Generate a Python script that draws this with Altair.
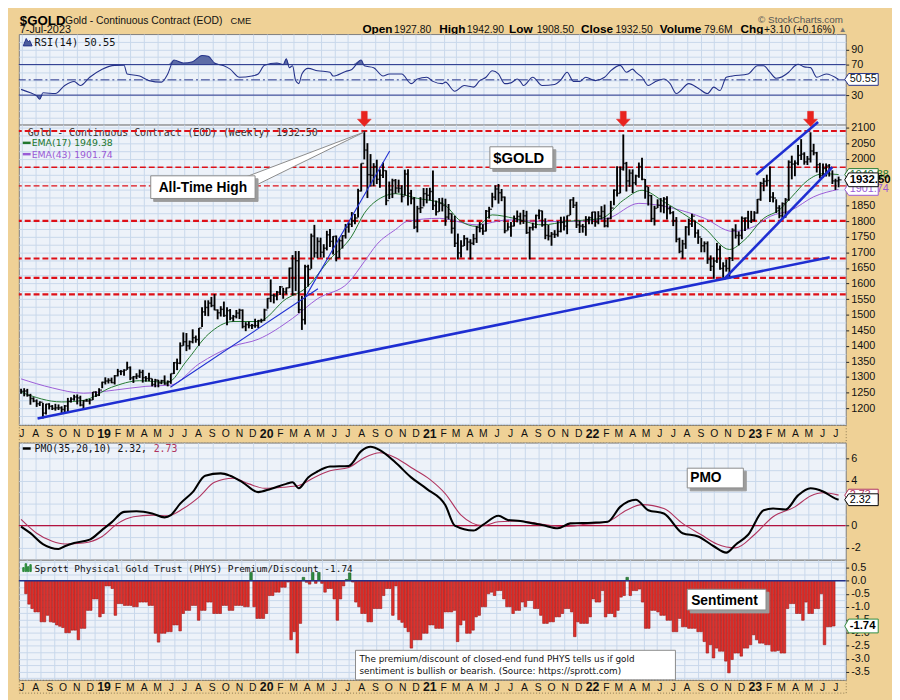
import altair as alt
import pandas as pd

# ------------------------------------------------------------------ data
week_start = "2018-06-29"   # first weekly bar (Fridays)

high = [
    1262, 1264, 1262, 1246, 1235, 1228, 1222, 1217, 1214, 1216, 1210, 1214, 1212, 1206, 1210, 1233, 1235, 1243, 1244, 1240, 1226, 1230, 1230, 1252, 1254, 1264, 1285,
    1299, 1296, 1298, 1306, 1326, 1322, 1325, 1349, 1334, 1303, 1312, 1324, 1323, 1303, 1314, 1295, 1294, 1291, 1291, 1305, 1289, 1311, 1348, 1359, 1411, 1443,
    1441, 1417, 1453, 1433, 1457, 1524, 1546, 1546, 1557, 1566, 1517, 1527, 1542, 1524, 1518, 1499, 1515, 1519, 1517, 1476, 1478, 1470, 1487, 1483, 1487, 1519,
    1553, 1613, 1566, 1576, 1592, 1586, 1587, 1651, 1691, 1704, 1704, 1560, 1660, 1660, 1760, 1788, 1748, 1747, 1726, 1769, 1775, 1752, 1754, 1745, 1755, 1791,
    1796, 1829, 1823, 1904, 1985, 2089, 2050, 2015, 1986, 1997, 1966, 1988, 1963, 1927, 1936, 1935, 1933, 1915, 1965, 1966, 1900, 1877, 1849, 1877, 1906, 1906,
    1907, 1962, 1866, 1874, 1875, 1872, 1855, 1825, 1817, 1760, 1739, 1755, 1747, 1742, 1759, 1784, 1797, 1790, 1836, 1846, 1891, 1915, 1919, 1903, 1879, 1796,
    1797, 1818, 1834, 1827, 1836, 1833, 1782, 1795, 1821, 1837, 1834, 1809, 1788, 1765, 1771, 1800, 1814, 1815, 1818, 1870, 1877, 1862, 1802, 1791, 1816, 1815, 1830,
    1831, 1832, 1848, 1853, 1811, 1865, 1902, 1976, 1975, 2078, 1990, 1966, 1966, 1949, 1988, 2003, 1935, 1910, 1884, 1849, 1870, 1874, 1877, 1880, 1848,
    1832, 1813, 1747, 1740, 1784, 1808, 1824, 1802, 1773, 1746, 1735, 1735, 1690, 1684, 1730, 1722, 1668, 1677, 1685, 1777, 1790, 1767, 1815, 1812, 1833, 1833, 1832,
    1871, 1926, 1938, 1949, 1975, 1893, 1870, 1851, 1860, 1874, 1995, 2010, 1995, 2044, 2063, 2021, 2009, 2085, 2048, 2022, 1987, 1985, 1985, 1983, 1963, 1936, 1942.9,
]
low = [
    1246, 1238, 1237, 1211, 1219, 1204, 1207, 1167, 1180, 1196, 1194, 1192, 1194, 1182, 1182, 1185, 1218, 1224, 1212, 1206, 1196, 1221, 1212, 1226, 1236, 1239, 1264,
    1276, 1279, 1280, 1276, 1302, 1306, 1304, 1323, 1290, 1281, 1293, 1297, 1282, 1285, 1286, 1270, 1267, 1267, 1277, 1275, 1270, 1278, 1310, 1322, 1341, 1400,
    1383, 1388, 1408, 1410, 1400, 1460, 1496, 1495, 1524, 1514, 1485, 1494, 1493, 1466, 1482, 1478, 1488, 1486, 1456, 1447, 1456, 1454, 1458, 1457, 1474, 1480,
    1519, 1540, 1536, 1546, 1563, 1551, 1565, 1585, 1562, 1576, 1505, 1451, 1468, 1590, 1647, 1683, 1681, 1683, 1683, 1706, 1717, 1693, 1671, 1682, 1712, 1744,
    1763, 1781, 1790, 1812, 1895, 1998, 1874, 1911, 1912, 1919, 1907, 1938, 1851, 1871, 1874, 1888, 1891, 1860, 1882, 1850, 1854, 1775, 1764, 1826, 1847, 1857,
    1866, 1836, 1818, 1830, 1831, 1785, 1805, 1760, 1717, 1677, 1683, 1720, 1706, 1677, 1723, 1730, 1764, 1756, 1767, 1808, 1844, 1867, 1856, 1864, 1761, 1770,
    1750, 1783, 1796, 1789, 1791, 1759, 1677, 1770, 1777, 1806, 1782, 1742, 1738, 1721, 1746, 1750, 1764, 1770, 1758, 1819, 1842, 1778, 1762, 1763, 1753, 1790, 1790,
    1782, 1790, 1805, 1780, 1780, 1806, 1851, 1879, 1889, 1962, 1895, 1910, 1890, 1915, 1939, 1931, 1872, 1850, 1797, 1786, 1842, 1828, 1825, 1805, 1822,
    1784, 1732, 1697, 1680, 1711, 1754, 1781, 1747, 1727, 1700, 1700, 1663, 1640, 1615, 1666, 1644, 1618, 1638, 1618, 1672, 1744, 1722, 1742, 1768, 1776, 1794, 1799,
    1824, 1865, 1896, 1911, 1861, 1860, 1826, 1809, 1806, 1811, 1865, 1934, 1944, 1979, 1996, 1981, 1980, 1988, 2011, 1956, 1937, 1939, 1943, 1943, 1919, 1900, 1908.5,
]
close = [
    1254, 1255, 1241, 1231, 1223, 1214, 1219, 1184, 1213, 1206, 1199, 1201, 1201, 1196, 1207, 1222, 1229, 1236, 1233, 1210, 1223, 1223, 1226, 1252, 1241, 1258, 1283,
    1287, 1289, 1282, 1304, 1318, 1318, 1322, 1330, 1297, 1301, 1303, 1315, 1298, 1295, 1295, 1276, 1290, 1281, 1288, 1278, 1285, 1311, 1346, 1344, 1400, 1413,
    1400, 1413, 1426, 1420, 1457, 1509, 1523, 1537, 1529, 1515, 1506, 1517, 1497, 1513, 1489, 1494, 1505, 1514, 1462, 1468, 1465, 1465, 1465, 1481, 1481, 1515,
    1552, 1562, 1560, 1572, 1589, 1573, 1586, 1649, 1566, 1673, 1516, 1484, 1654, 1645, 1752, 1698, 1735, 1700, 1713, 1756, 1735, 1751, 1683, 1737, 1753, 1781,
    1790, 1801, 1810, 1897, 1985, 2028, 1949, 1947, 1975, 1934, 1947, 1962, 1866, 1900, 1930, 1906, 1905, 1879, 1951, 1889, 1872, 1781, 1840, 1843, 1888, 1883,
    1895, 1850, 1830, 1857, 1850, 1813, 1824, 1777, 1729, 1698, 1720, 1744, 1733, 1729, 1744, 1780, 1777, 1768, 1832, 1838, 1877, 1903, 1891, 1877, 1769, 1781,
    1784, 1808, 1815, 1801, 1817, 1763, 1779, 1781, 1818, 1833, 1788, 1754, 1752, 1758, 1757, 1767, 1796, 1784, 1818, 1868, 1851, 1788, 1784, 1782, 1805, 1811, 1829,
    1797, 1816, 1831, 1785, 1808, 1842, 1899, 1889, 1967, 1985, 1929, 1954, 1923, 1945, 1975, 1934, 1911, 1882, 1808, 1841, 1851, 1850, 1871, 1840, 1827,
    1801, 1742, 1703, 1727, 1781, 1791, 1816, 1762, 1749, 1721, 1728, 1677, 1655, 1672, 1709, 1648, 1656, 1648, 1681, 1771, 1754, 1754, 1809, 1810, 1800, 1804, 1826,
    1870, 1921, 1928, 1930, 1877, 1874, 1842, 1817, 1856, 1868, 1989, 1983, 1986, 2011, 2015, 1990, 1999, 2025, 2019, 1981, 1946, 1969, 1977, 1971, 1929, 1929, 1932.5,
]
# PHYS premium/discount (%), weekly
premium = [
    -0.5, -0.9, -1.07, -1.2, -1.2, -1.58, -1.58, -1.33, -1.58, -1.6,
    -1.7, -1.75, -1.8, -2.0, -2.0, -1.9, -1.9, -2.27, -1.83, -1.83,
    -1.14, -1.14, -0.7, -0.7, -1.39, -1.26, -0.2, -0.2, -0.3, -1.33,
    -0.88, -0.88, -0.95, -0.95, -0.95, -1.0, -1.0, -0.82, -0.82, -0.82,
    -0.95, -0.95, -2.02, -2.36, -2.02, -2.02, -1.96, -1.96, -1.7, -1.7,
    -1.93, -1.26, -1.14, -1.14, -0.95, -0.95, -1.52, -1.14, -1.14, -0.82,
    -0.82, -1.26, -1.26, -1.26, -0.95, -0.95, -1.14, -1.14, -0.95, -0.95,
    -0.95, -1.0, -1.0, 0.32, -1.0, -1.45, -1.45, -1.45, -1.26, -0.57,
    -0.57, -0.44, -0.44, -0.25, -0.25, -0.05, -2.27, -1.96, -2.78, -1.64,
    0.13, -0.06, -0.13, 0.32, -0.1, 0.32, -0.1, -0.44, -0.3, -0.3,
    -0.7, -1.52, -0.7, -0.2, 0.05, 0.3, -0.05, -0.82, -1.0, -1.26,
    -1.26, -1.58, -1.58, -1.07, -1.07, -1.07, -0.57, -0.3, -0.3, -1.33,
    -0.2, -1.5, -1.6, -1.8, -1.96, -2.59, -2.27, -2.27, -2.27, -2.02,
    -2.02, -1.7, -1.7, -1.83, -1.83, -1.83, -1.2, -1.2, -1.2, -1.14,
    -2.34, -1.7, -1.52, -2.02, -2.02, -1.9, -1.39, -1.33, -1.0, -1.0,
    -0.5, -0.44, -0.57, -0.38, -0.38, -0.7, -1.0, -1.0, -1.26, -1.14,
    -1.14, -0.82, -1.0, -0.76, -0.76, -1.07, -1.07, -1.33, -1.64, -1.64,
    -1.58, -1.58, -1.39, -1.39, -1.26, -1.07, -1.07, -1.2, -2.15, -1.58,
    -1.64, -1.64, -1.64, -1.39, -0.7, -0.82, -0.82, -0.38, -1.39, -1.26,
    -1.26, -1.39, -1.14, -0.63, -0.57, 0.13, -0.57, -0.38, -0.38, -0.32,
    -0.82, -1.83, -1.83, -1.14, -1.14, -1.2, -1.33, -1.33, -1.52, -1.52,
    -1.96, -1.96, -1.45, -1.77, -1.77, -1.83, -1.83, -1.83, -1.96, -1.96,
    -2.34, -2.78, -2.46, -2.97, -2.59, -2.71, -2.71, -3.09, -3.54, -3.03,
    -2.78, -2.78, -2.9, -2.59, -2.59, -2.46, -2.08, -2.27, -2.4, -2.4,
    -2.46, -2.46, -2.71, -2.71, -2.68, -2.78, -2.78, -1.07, -0.88, -0.88,
    -1.26, -1.26, -1.52, -0.82, -1.26, -1.26, -1.07, -1.07, -0.5, -2.46,
    -1.77, -1.77, -1.74,
]

# indicator readings: week number (0 = first bar) and value
rsi_week = [0, 3, 5, 6, 7, 11, 14, 17, 19, 22, 26, 30, 33, 34, 38, 41, 45, 47, 49, 52, 55, 58, 60, 62, 65, 67, 70, 74, 76, 78,
            82, 84, 85, 86, 87, 88, 89, 90, 92, 95, 99, 100, 104, 106, 109, 110, 113, 116, 118, 122, 125, 127, 130, 132, 135, 136,
            139, 142, 145, 147, 149, 151, 153, 155, 157, 159, 160, 161, 164, 167, 171, 173, 175, 177, 179, 181, 184, 187, 189, 192,
            194, 196, 197, 199, 201, 203, 206, 208, 210, 214, 217, 220, 222, 224, 226, 228, 233, 236, 238, 240, 242, 246, 248, 249,
            251, 253, 255, 258, 262]
rsi_value = [37.5, 33, 29, 24.6, 33, 32, 42.6, 47.8, 42.6, 53.4, 64, 69, 69.2, 57.7, 55, 49, 47, 57.7, 76, 72, 73.8, 82, 81, 72, 68.4, 64, 53.4, 55, 57.7, 69.2,
             72, 70, 77.5, 66, 68.4, 49, 45, 57.7, 65, 62, 60, 55, 61, 63.6, 76, 68.4, 66, 55, 57.7, 57.7, 45, 51, 53.4, 48, 45, 47,
             35, 42.6, 40.5, 49, 53.4, 62, 57.7, 45, 46, 51, 48, 42.6, 53.4, 42.6, 44, 50, 60, 48, 48, 53.4, 49, 53.4, 62, 69,
             60, 64, 60, 53.4, 42.6, 47, 51, 45, 32, 45, 39, 32, 40.5, 36, 53.4, 55, 57.7, 68.4, 68.4, 60, 52, 60, 68.4, 70.5,
             67, 66, 53.4, 57.7, 50.55]

pmo_week = [0, 3, 7, 12, 14, 17, 22, 26, 29, 33, 37, 42, 46, 48, 51, 55, 59, 64, 67, 71, 76, 80, 85, 87, 89, 92, 95, 99, 105, 109,
            112, 115, 120, 125, 130, 136, 139, 145, 148, 153, 156, 160, 164, 167, 172, 176, 183, 188, 192, 197, 201, 206, 212, 217,
            222, 226, 229, 233, 238, 241, 245, 249, 253, 257, 261, 262]
pmo_value = [-0.09, -0.68, -1.65, -2.09, -1.85, -1.56, -1.26, -0.38, 0.29, 1.23, 1.29, 1.09, 0.74, 0.94, 1.97, 3.0, 4.47, 4.68, 4.47, 3.88,
             3.0, 3.29, 3.74, 3.88, 3.35, 4.32, 4.85, 5.29, 5.35, 6.68, 7.06, 6.76, 5.65, 4.32, 3.29, 1.82, 0.0, -0.44, 0.06, 0.88,
             0.5, 0.41, 0.2, 0.06, -0.24, 0.2, 0.26, 0.35, 1.68, 2.32, 1.38, 1.09, -0.68, -0.97, -1.85, -2.42, -1.71, -0.82, 1.38,
             1.53, 1.44, 2.71, 3.35, 3.06, 2.42, 2.32]
signal_week = [0, 5, 10, 14, 20, 26, 31, 36, 42, 47, 52, 57, 62, 68, 73, 78, 84, 89, 94, 99, 105, 110, 115, 120, 125, 131, 136,
               141, 148, 153, 160, 167, 174, 181, 188, 194, 199, 206, 212, 218, 223, 229, 235, 241, 248, 253, 257, 262]
signal_value = [0.56, -0.68, -1.41, -1.65, -1.56, -0.97, 0.2, 0.79, 0.94, 0.88, 1.53, 2.56, 3.88, 4.24, 3.74, 3.35, 3.44, 3.59, 4.32,
                4.91, 5.21, 6.09, 6.53, 6.09, 5.21, 4.15, 2.85, 0.94, 0.0, 0.35, 0.41, 0.12, -0.09, 0.12, 0.35, 1.38, 1.88, 1.53,
                0.2, -0.82, -1.65, -2.0, -0.82, 0.79, 1.68, 2.65, 2.94, 2.73]

ema17_week = [0, 13, 20, 29, 38, 47, 53, 60, 68, 76, 85, 91, 99, 106, 110, 116, 120, 127, 135, 141, 146, 151, 158, 167, 175,
              186, 193, 199, 206, 212, 219, 227, 232, 238, 243, 247, 252, 257, 262]
ema17_value = [1251, 1220, 1225, 1267, 1288, 1283, 1351, 1437, 1478, 1478, 1551, 1583, 1678, 1752, 1825, 1878, 1888, 1873, 1857,
               1799, 1783, 1820, 1809, 1788, 1799, 1809, 1867, 1899, 1862, 1825, 1778, 1709, 1741, 1809, 1836, 1878, 1930, 1952, 1949.38]
ema43_week = [0, 10, 20, 30, 40, 48, 57, 68, 76, 87, 95, 105, 110, 114, 120, 124, 134, 146, 156, 167, 177, 188, 198, 209, 219,
              228, 235, 240, 247, 254, 262]
ema43_value = [1294, 1265, 1248, 1258, 1270, 1274, 1342, 1399, 1421, 1488, 1551, 1604, 1670, 1725, 1773, 1800, 1809, 1788, 1804,
               1799, 1799, 1809, 1857, 1841, 1809, 1767, 1783, 1815, 1836, 1878, 1901.74]

rsi_bands = [30, 70]
rsi_mid = [50]
major_levels = [2089, 1801, 1680, 1618, 1565]
minor_levels = [1973, 1913]

thick_start_date = ["2018-08-05", "2022-10-23", "2023-01-03"]
thick_start_price = [1167, 1614, 1949]
thick_end_date = ["2023-06-17", "2023-06-23", "2023-05-22"]
thick_end_price = [1684, 1973, 2118]
thin_start_date = ["2019-05-30", "2020-03-28"]
thin_start_price = [1267, 1557]
thin_end_date = ["2020-04-25", "2020-10-03"]
thin_end_price = [1583, 2025]

peak_dates = ["2020-08-07", "2022-03-11", "2023-05-05"]
ath_date = ["2020-08-07"]
ath_price = [2089]

header_left = ["$GOLD", "Gold - Continuous Contract (EOD)", "CME", "7-Jul-2023"]
quote_names = ["Open", "High", "Low", "Close", "Volume", "Chg"]
quote_values = ["1927.80", "1942.90", "1908.50", "1932.50", "79.6M", "+3.10 (+0.16%)"]

# ------------------------------------------------------------------ style / layout
W = 840
H_HEAD, H_RSI, H_PRICE, H_BAND, H_PMO, H_SENT, H_BAND2 = 20, 92, 305, 18, 119, 122, 13
TAN = "#EFD196"
PLOT_BG = "#EDF2F9"
GRID = "#C8D7EB"
NAVY = "#25328A"
GREEN = "#22772F"
PURPLE = "#9A5BD6"
PINK = "#B0335E"
RED_DASH = "#DE1018"
BLUE = "#1E2ED2"
MONO = "DejaVu Sans Mono"
SANS = "Liberation Sans"
CLEAR = alt.ViewBackground(fill="transparent", stroke="transparent")
BAND_VIEW = alt.ViewBackground(fill="transparent", stroke="#8C7A52", strokeDash=[1, 2], strokeWidth=1)

n = min(len(high), len(low), len(close))
dates = pd.date_range(week_start, periods=n, freq="W-FRI")
bars = pd.DataFrame({"date": dates, "high": high[:n], "low": low[:n], "close": close[:n]})
sent = pd.DataFrame({"date": pd.date_range(week_start, periods=len(premium), freq="W-FRI"), "v": premium})
one = pd.DataFrame({"k": [0]})

month_starts = pd.date_range("2018-07-01", "2023-07-01", freq="MS")
months = pd.DataFrame({
    "date": month_starts,
    "lab": [d.strftime("%y") if d.month == 1 else d.strftime("%b")[0] for d in month_starts],
    "yr": [d.month == 1 for d in month_starts],
})


def series(weeks, values):
    k = min(len(weeks), len(values))
    return pd.DataFrame({"date": [dates[min(w, n - 1)] for w in weeks[:k]], "v": values[:k]})


XS = alt.Scale(domain=[alt.DateTime(year=2018, month=6, date=24), alt.DateTime(year=2023, month=7, date=23)])
XAX = alt.Axis(grid=True, gridColor=GRID, labels=False, ticks=False, domain=False, title=None,
               tickCount={"interval": "month", "step": 1})


def yax(grid_vals, label_vals, fmt):
    arr = "[" + ",".join(repr(float(v)) for v in label_vals) + "]"
    test = f"indexof({arr}, datum.value) >= 0"
    return alt.Axis(
        orient="right", values=list(grid_vals), grid=True, gridColor=GRID, domain=False, title=None,
        tickSize=3, tickColor="#222", tickOpacity={"condition": {"test": test, "value": 1}, "value": 0},
        labelExpr=f"{test} ? {fmt} : ''", labelPadding=2, labelFont=SANS, labelFontSize=11,
        labelColor="#111", labelOverlap=False, labelBound=False, labelFlush=False,
    )


def txt(s, x, y, size=10, font=MONO, weight="normal", color="#111", align="left", baseline="alphabetic"):
    return alt.Chart(one).mark_text(text=s, fontSize=size, font=font, fontWeight=weight, color=color,
                                    align=align, baseline=baseline).encode(x=alt.value(x), y=alt.value(y))


def shape(path, x, y, fill, stroke=None, sw=1):
    kw = dict(shape=path, size=4, filled=True, fill=fill, opacity=1, strokeWidth=sw)
    kw["stroke"] = stroke if stroke else fill
    return alt.Chart(one).mark_point(**kw).encode(x=alt.value(x), y=alt.value(y))


def callout(x, y, w, h, shadow=True):
    hw, hh = w / 2, h / 2
    rect = f"M{-hw},{-hh} L{hw},{-hh} L{hw},{hh} L{-hw},{hh} Z"
    out = []
    if shadow:
        out.append(shape(rect, x + 3, y + 3, "#9C9C9C"))
    out.append(shape(rect, x, y, "white", "#8A8A8A"))
    return out


def vbox(value, text, ys, ya, stroke, color="#111", bold=False, h=6):
    df = pd.DataFrame({"v": [value]})
    path = f"M0,0 L4,-{h} L34,-{h} L34,{h} L4,{h} Z"
    y = alt.Y("v:Q", scale=ys, axis=ya)
    box = alt.Chart(df).mark_point(shape=path, size=4, filled=True, fill="white", stroke=stroke,
                                   strokeWidth=1, opacity=1).encode(x=alt.value(W - 1), y=y)
    lab = alt.Chart(df).mark_text(text=text, align="left", baseline="middle", font=SANS,
                                  fontSize=11.5 if bold else 11, fontWeight="bold" if bold else "normal",
                                  color=color).encode(x=alt.value(W + 4), y=y)
    return [box, lab]


def month_band(h, base):
    xb = alt.X("date:T", scale=XS, axis=None)
    small = alt.Chart(months).transform_filter("!datum.yr").mark_text(
        font=SANS, fontSize=10.5, color="#111", baseline="alphabetic").encode(x=xb, y=alt.value(base), text="lab:N")
    big = alt.Chart(months).transform_filter("datum.yr").mark_text(
        font=SANS, fontSize=12.5, fontWeight="bold", color="#111", baseline="alphabetic").encode(
        x=xb, y=alt.value(base + 0.5), text="lab:N")
    return alt.layer(small, big).properties(width=W, height=h, view=BAND_VIEW)


# ------------------------------------------------------------------ header strip
head_layers = [
    txt(header_left[0], 1, 10.5, size=13.5, font=SANS, weight="bold", color="#000"),
    txt(header_left[1], 47, 9.5, size=10.5, font=SANS),
    txt(header_left[2], 215, 9.5, size=9.5, font=SANS),
    txt(header_left[3], 1, 18.5, size=11, font=SANS),
    txt("\u00a9 StockCharts.com", 751, 8.5, size=10, font=SANS, color="#555"),
]
name_x = [349, 427, 498, 571, 651, 733]
value_x = [381, 455, 526, 606, 696, 757]
for nm, nx in zip(quote_names, name_x):
    head_layers.append(txt(nm, nx, 18.5, size=12, font=SANS, weight="bold", color="#000"))
for vv, vx in zip(quote_values, value_x):
    head_layers.append(txt(vv, vx, 18.5, size=10.5, font=SANS))
head_layers.append(txt("\u25b2", 833, 17.5, size=8, font=SANS, color="#777"))
head_panel = alt.layer(*head_layers).properties(width=W, height=H_HEAD, view=CLEAR)

# ------------------------------------------------------------------ RSI panel
ys_r = alt.Scale(domain=[-8.7, 110], nice=False, zero=False)
ya_r = yax(range(0, 101, 10), [30, 70, 90], "format(datum.value, 'd')")
xr = alt.X("date:T", scale=XS, axis=XAX)
rsi_df = series(rsi_week, rsi_value)

rsi_layers = [
    alt.Chart(rsi_df).transform_calculate(hi="max(datum.v, 70)").mark_area(
        interpolate="monotone", color="#4D5D9C", opacity=0.9).encode(
        x=xr, y=alt.Y("hi:Q", scale=ys_r, axis=ya_r), y2=alt.Y2(datum=70)),
    alt.Chart(rsi_df).transform_calculate(lo="min(datum.v, 30)").mark_area(
        interpolate="monotone", color="#4D5D9C", opacity=0.9).encode(
        x=xr, y=alt.Y("lo:Q", scale=ys_r, axis=ya_r), y2=alt.Y2(datum=30)),
    alt.Chart(pd.DataFrame({"v": rsi_bands})).mark_rule(color=NAVY, strokeWidth=1).encode(
        y=alt.Y("v:Q", scale=ys_r, axis=ya_r)),
    alt.Chart(pd.DataFrame({"v": rsi_mid})).mark_rule(color=NAVY, strokeWidth=1, strokeDash=[9, 3, 2, 3]).encode(
        y=alt.Y("v:Q", scale=ys_r, axis=ya_r)),
    alt.Chart(rsi_df).mark_line(interpolate="monotone", color=NAVY, strokeWidth=1.1).encode(
        x=xr, y=alt.Y("v:Q", scale=ys_r, axis=ya_r)),
    shape("M-4.5,4 L-1.5,-3.5 L0.5,0 L2,-1.5 L4.5,4 Z", 9, 8, "#4D5D9C", NAVY),
    txt(f"RSI(14) {rsi_value[-1]:.2f}", 16, 12, size=10.5),
]
rsi_layers += vbox(rsi_value[-1], f"{rsi_value[-1]:.2f}", ys_r, ya_r, NAVY)
rsi_panel = alt.layer(*rsi_layers).properties(width=W, height=H_RSI)

# ------------------------------------------------------------------ price panel
ys_p = alt.Scale(domain=[1146.4, 2109.5], nice=False, zero=False)
ya_p = yax(range(1150, 2101, 25), [v for v in range(1200, 2101, 50) if v not in (1900, 1950)],
           "format(datum.value, 'd')")
xp = alt.X("date:T", scale=XS, axis=XAX)


def Yp(f):
    return alt.Y(f, scale=ys_p, axis=ya_p)


thick = pd.DataFrame({"date": pd.to_datetime(thick_start_date), "d2": pd.to_datetime(thick_end_date),
                      "p1": thick_start_price, "p2": thick_end_price})
thin = pd.DataFrame({"date": pd.to_datetime(thin_start_date), "d2": pd.to_datetime(thin_end_date),
                     "p1": thin_start_price, "p2": thin_end_price})
peaks = pd.DataFrame({"date": pd.to_datetime(peak_dates), "v": [major_levels[0]] * len(peak_dates)})
ath = pd.DataFrame({"date": pd.to_datetime(ath_date), "v": ath_price})

price_layers = [
    txt(f"Gold - Continuous Contract (EOD) (Weekly) {close[-1]:.2f}", 9, 11.5, size=10, color="#333"),
    alt.Chart(pd.DataFrame({"v": major_levels})).mark_rule(color=RED_DASH, strokeWidth=2.2, strokeDash=[6, 3]).encode(y=Yp("v:Q")),
    alt.Chart(pd.DataFrame({"v": minor_levels})).mark_rule(color=RED_DASH, strokeWidth=1.4, strokeDash=[6, 3]).encode(y=Yp("v:Q")),
    alt.Chart(series(ema43_week, ema43_value)).mark_line(interpolate="monotone", color=PURPLE, strokeWidth=1).encode(x=xp, y=Yp("v:Q")),
    alt.Chart(series(ema17_week, ema17_value)).mark_line(interpolate="monotone", color=GREEN, strokeWidth=1).encode(x=xp, y=Yp("v:Q")),
    alt.Chart(bars).mark_rule(color="#000", strokeWidth=1.9).encode(x=xp, y=Yp("low:Q"), y2="high:Q"),
    alt.Chart(bars).mark_tick(color="#000", orient="horizontal", size=3, thickness=1.5, xOffset=1.5).encode(x=xp, y=Yp("close:Q")),
    alt.Chart(thin).mark_rule(color=BLUE, strokeWidth=1.1).encode(x=xp, x2="d2:T", y=Yp("p1:Q"), y2="p2:Q"),
    alt.Chart(thick).mark_rule(color=BLUE, strokeWidth=2.6).encode(x=xp, x2="d2:T", y=Yp("p1:Q"), y2="p2:Q"),
    alt.Chart(peaks).mark_point(shape="M-3,-20 L3,-20 L3,-12 L7,-12 L0,-4.5 L-7,-12 L-3,-12 Z", size=4, filled=True,
                                fill="#E8231E", stroke="#E8231E", strokeWidth=0.5, opacity=1).encode(x=xp, y=Yp("v:Q")),
    alt.Chart(ath).mark_point(shape="M0,1 L-124,48 L-108,54 Z", size=4, filled=True, fill="white",
                              stroke="#8A8A8A", strokeWidth=1, opacity=1).encode(x=xp, y=Yp("v:Q")),
]
price_layers += callout(187, 63.5, 106, 23)
price_layers.append(txt("All-Time High", 187, 68.5, size=14, font=SANS, weight="bold", color="#000", align="center"))
price_layers += callout(510.5, 33.5, 64, 22)
price_layers.append(txt("$GOLD", 482, 39, size=15, font=SANS, weight="bold", color="#000"))
price_layers += [
    alt.Chart(one).mark_rule(color=GREEN, strokeWidth=2.5).encode(x=alt.value(4), x2=alt.value(12), y=alt.value(18.5)),
    txt(f"EMA(17) {ema17_value[-1]:.2f}", 13, 22, size=9.5, font="DejaVu Sans", color=GREEN),
    alt.Chart(one).mark_rule(color=PURPLE, strokeWidth=2.5).encode(x=alt.value(4), x2=alt.value(12), y=alt.value(30)),
    txt(f"EMA(43) {ema43_value[-1]:.2f}", 13, 33.5, size=9.5, font="DejaVu Sans", color=PURPLE),
]
price_layers += vbox(ema17_value[-1], f"{ema17_value[-1]:.2f}", ys_p, ya_p, GREEN, color=GREEN)
price_layers += vbox(ema43_value[-1], f"{ema43_value[-1]:.2f}", ys_p, ya_p, PURPLE, color=PURPLE)
price_layers += vbox(close[-1], f"{close[-1]:.2f}", ys_p, ya_p, "#000", color="#000", bold=True, h=7)
price_panel = alt.layer(*price_layers).properties(width=W, height=H_PRICE)

# ------------------------------------------------------------------ PMO panel
ys_m = alt.Scale(domain=[-3.06, 7.44], nice=False, zero=False)
ya_m = yax(range(-2, 8), [6, 4, 0, -2], "replace(format(datum.value, 'd'), '\u2212', '-')")
xm = alt.X("date:T", scale=XS, axis=XAX)
pmo_layers = [
    alt.Chart(pd.DataFrame({"v": [0]})).mark_rule(color="#B3123F", strokeWidth=1.2).encode(
        y=alt.Y("v:Q", scale=ys_m, axis=ya_m)),
    alt.Chart(series(signal_week, signal_value)).mark_line(interpolate="monotone", color=PINK, strokeWidth=1.1).encode(
        x=xm, y=alt.Y("v:Q", scale=ys_m, axis=ya_m)),
    alt.Chart(series(pmo_week, pmo_value)).mark_line(interpolate="monotone", color="#000", strokeWidth=2.1).encode(
        x=xm, y=alt.Y("v:Q", scale=ys_m, axis=ya_m)),
    alt.Chart(one).mark_rule(color="#000", strokeWidth=2.5).encode(x=alt.value(4), x2=alt.value(12), y=alt.value(6)),
    txt(f"PMO(35,20,10) {pmo_value[-1]:.2f},", 16, 9.5, size=10),
    txt(f"{signal_value[-1]:.2f}", 137, 9.5, size=10, color=PINK),
]
pmo_layers += callout(707.5, 36, 57, 20)
pmo_layers.append(txt("PMO", 682, 40.5, size=14, font=SANS, weight="bold", color="#000"))
pmo_layers += vbox(signal_value[-1], f"{signal_value[-1]:.2f}", ys_m, ya_m, PINK, color=PINK)
pmo_layers += vbox(pmo_value[-1], f"{pmo_value[-1]:.2f}", ys_m, ya_m, "#000", color="#000")
pmo_panel = alt.layer(*pmo_layers).properties(width=W, height=H_PMO)

# ------------------------------------------------------------------ sentiment panel
ys_s = alt.Scale(domain=[-3.81, 0.807], nice=False, zero=False)
ya_s = yax([v / 4 for v in range(-15, 4)], [0.5, 0, -0.5, -1, -1.5, -2, -2.5, -3, -3.5],
           "replace(format(datum.value, '.1f'), '\u2212', '-')")
xs = alt.X("date:T", scale=XS, axis=XAX)
sent_layers = [
    alt.Chart(sent).mark_bar(size=2.6, strokeWidth=0.6).encode(
        x=xs, y=alt.Y("v:Q", scale=ys_s, axis=ya_s), y2=alt.Y2(datum=0),
        color=alt.condition("datum.v > 0", alt.value("#2E8B3E"), alt.value("#E0302B")),
        stroke=alt.condition("datum.v > 0", alt.value("#1D5E28"), alt.value("#9A1414"))),
    alt.Chart(pd.DataFrame({"v": [0]})).mark_rule(color=NAVY, strokeWidth=1.4).encode(
        y=alt.Y("v:Q", scale=ys_s, axis=ya_s)),
    shape("M-4,4 L-4,0 L-2.6,0 L-2.6,4 Z M-1.6,4 L-1.6,-4 L-0.2,-4 L-0.2,4 Z M0.8,4 L0.8,-1 L2.2,-1 L2.2,4 Z M3.2,4 L3.2,-3 L4.6,-3 L4.6,4 Z",
          8, 8, "#2E8B3E"),
    txt(f"Sprott Physical Gold Trust (PHYS) Premium/Discount {premium[-1]:.2f}", 16, 12, size=9.6),
]
sent_layers += callout(719, 40.5, 80, 21)
sent_layers.append(txt("Sentiment", 683, 45.7, size=14, font=SANS, weight="bold", color="#000"))
sent_layers += callout(504.5, H_SENT - 15, 325, 30, shadow=False)
sent_layers.append(txt("The premium/discount of closed-end fund PHYS tells us if gold", 346, H_SENT - 18,
                       size=9, font="DejaVu Sans"))
sent_layers.append(txt("sentiment is bullish or bearish. (Source: https://sprott.com)", 346, H_SENT - 6,
                       size=9, font="DejaVu Sans"))
sent_layers += vbox(premium[-1], f"{premium[-1]:.2f}", ys_s, ya_s, "#2E8B3E", color="#000", bold=True, h=7)
sent_panel = alt.layer(*sent_layers).properties(width=W, height=H_SENT)

# ------------------------------------------------------------------ assemble
chart = alt.vconcat(
    head_panel, rsi_panel, price_panel, month_band(H_BAND, 12.5), pmo_panel, sent_panel, month_band(H_BAND2, 11),
    spacing=0, bounds="flush",
).properties(
    background=TAN, padding={"left": 8, "top": 0, "right": 0, "bottom": 0}
).configure_view(fill=PLOT_BG, stroke="#7E7E7E", strokeWidth=1)

chart.save("out.html", embed_options={"renderer": "svg", "actions": False})
